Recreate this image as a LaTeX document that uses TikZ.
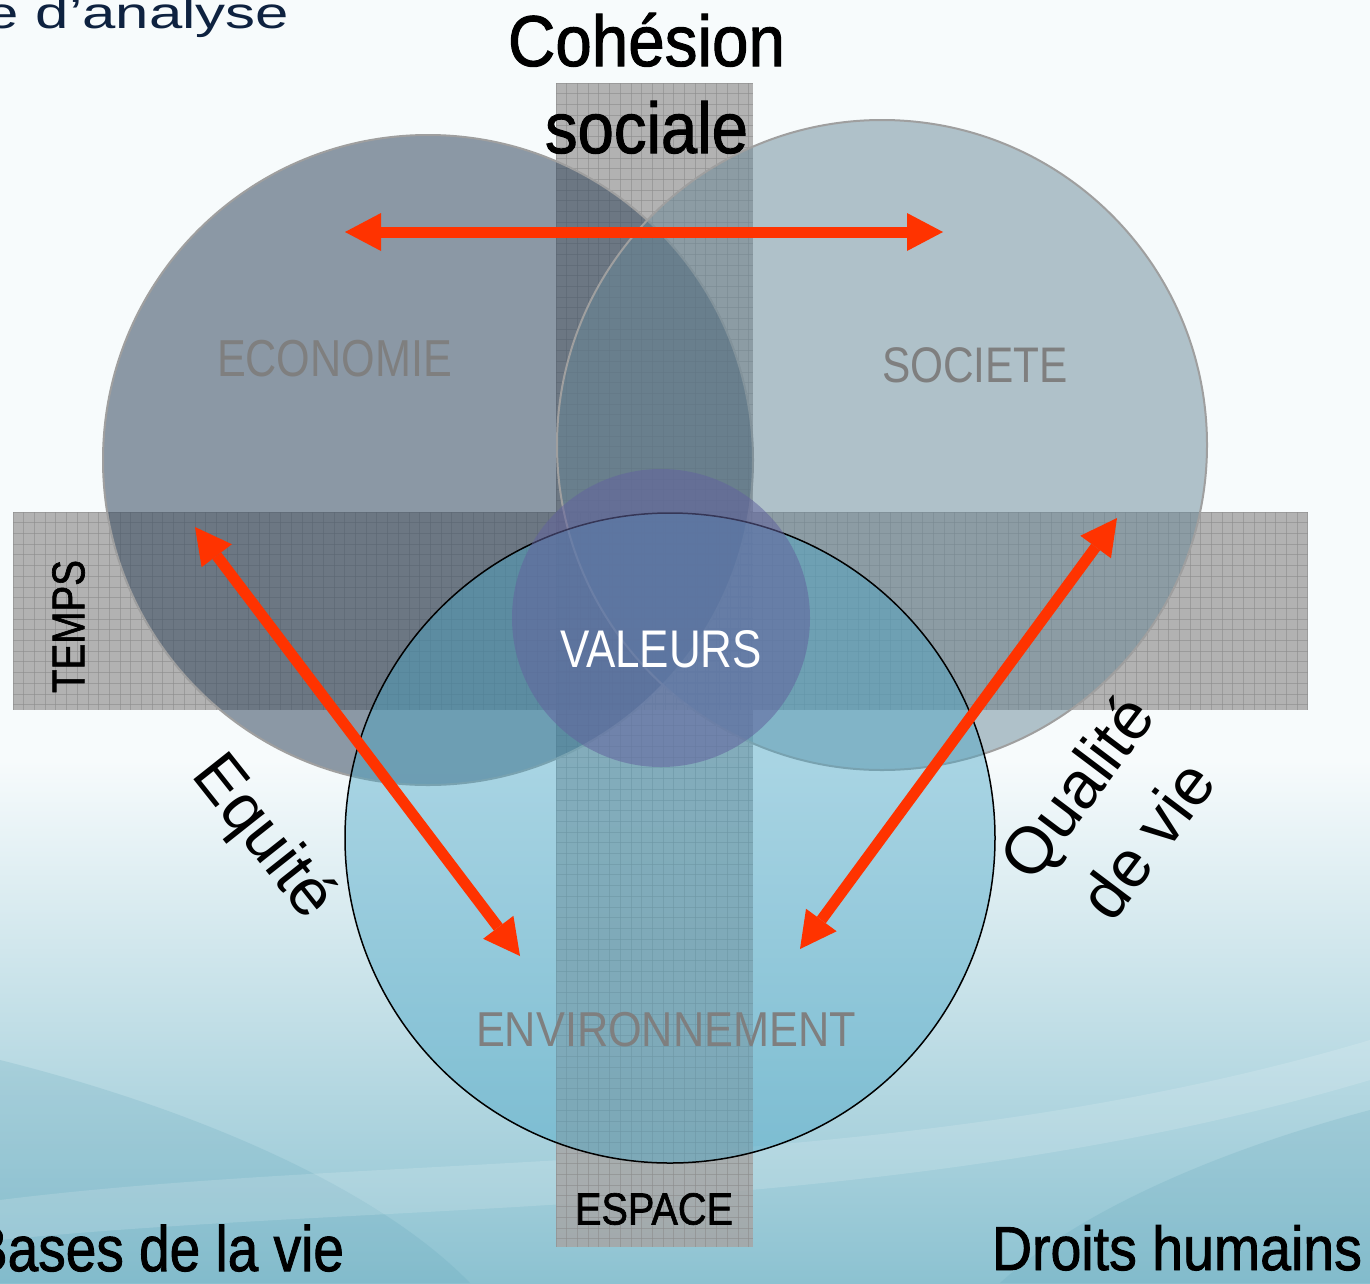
\documentclass[tikz,border=0pt]{standalone}
\usepackage{fontspec}
\usepackage{graphicx}
\setmainfont{Liberation Sans}
\newfontfamily\medf[FakeBold=1.5]{Liberation Sans}
\usetikzlibrary{arrows.meta}
\definecolor{bgtop}{HTML}{F7FBFC}
\definecolor{bgbot}{HTML}{8CC2D1}
\definecolor{bgdark}{HTML}{5FA3B8}
\definecolor{bandgray}{HTML}{A6A6A6}
\definecolor{gridgray}{HTML}{8C8C8C}
\definecolor{ecofill}{HTML}{34485E}
\definecolor{socfill}{HTML}{688898}
\definecolor{envfill}{HTML}{4AA6C6}
\definecolor{valfill}{HTML}{62639E}
\definecolor{arrowred}{HTML}{FF3300}
\definecolor{lblgray}{HTML}{7F7F7F}
\definecolor{navy}{HTML}{0E2240}
\newcommand\fitw[2]{\resizebox{#1pt}{\height}{#2}}
\tikzset{
  band/.style={fill=bandgray, fill opacity=0.85},
  gridline/.style={draw=gridgray, line width=0.8pt, opacity=0.6},
  bigcircle/.style={circle, inner sep=0pt, outer sep=0pt, minimum size=650pt},
  redarrow/.style={draw=arrowred, line width=11pt,
    {Triangle[length=36pt,width=38pt,line width'=0pt]}-{Triangle[length=36pt,width=38pt,line width'=0pt]}},
  lbl/.style={inner sep=0pt, outer sep=0pt}
}
\begin{document}
\begin{tikzpicture}[x=1pt,y=-1pt]
\clip (0,0) rectangle (1370,1283);
% background
\fill[bgtop] (0,0) rectangle (1370,1283);
\shade[top color=bgtop, bottom color=bgbot] (0,760) rectangle (1370,1283);
\fill[bgdark, opacity=0.2] (0,1060) .. controls (200,1110) and (380,1190) .. (470,1283) -- (0,1283) -- cycle;
\fill[bgdark, opacity=0.2] (1370,1110) .. controls (1220,1150) and (1080,1210) .. (1000,1283) -- (1370,1283) -- cycle;
\fill[white, opacity=0.15] (0,1200) .. controls (400,1150) and (900,1180) .. (1370,1040) -- (1370,1080) .. controls (900,1220) and (400,1200) .. (0,1240) -- cycle;
% bands
\fill[band] (556,83) rectangle (753,1247);
\fill[band] (13,512) rectangle (1308,710);
\begin{scope}
\clip (556,83) rectangle (753,1247);
\foreach \i in {0,...,19} \draw[gridline] (556+\i*10.7,83) -- (556+\i*10.7,1247);
\foreach \i in {0,...,109} \draw[gridline] (556,83+\i*10.7) -- (753,83+\i*10.7);
\end{scope}
\begin{scope}
\clip (13,512) rectangle (1308,710);
\foreach \i in {0,...,121} \draw[gridline] (13+\i*10.7,512) -- (13+\i*10.7,710);
\foreach \i in {0,...,19} \draw[gridline] (13,512+\i*10.7) -- (1308,512+\i*10.7);
\end{scope}
% circles
\node[bigcircle, fill=ecofill, fill opacity=0.55, draw=gray!75, line width=2pt] (eco) at (428,460) {};
\node[bigcircle, fill=socfill, fill opacity=0.5, draw=gray!75, line width=2pt] (soc) at (882,445) {};
\node[bigcircle, fill=envfill, fill opacity=0.45, draw=black, line width=1.5pt] (env) at (670,838) {};
\node[circle, inner sep=0pt, minimum size=298pt, fill=valfill, fill opacity=0.55] (val) at (661,618) {};
% arrows
\coordinate (hl) at (345,232); \coordinate (hr) at (943,232);
\coordinate (ll) at (195,527); \coordinate (lr) at (520,956);
\coordinate (rl) at (1117,518); \coordinate (rr) at (800,949);
\draw[redarrow] (hl) -- (hr);
\draw[redarrow] (ll) -- (lr);
\draw[redarrow] (rl) -- (rr);
% labels
\node[lbl, anchor=base east, text=navy] (tTitle) at (289,28) {\fitw{303}{\fontsize{44}{52}\selectfont e d’analyse}};
\node[lbl, anchor=base] (tCoh) at (646.5,66) {\fitw{277}{\medf\fontsize{72}{80}\selectfont Cohésion}};
\node[lbl, anchor=base] (tSoc) at (646.5,153) {\fitw{203}{\medf\fontsize{72}{80}\selectfont sociale}};
\node[lbl, text=lblgray] (tEco) at (334.5,358.5) {\fitw{235}{\fontsize{52}{60}\selectfont ECONOMIE}};
\node[lbl, text=lblgray] (tSoci) at (975,365.5) {\fitw{186}{\fontsize{50}{60}\selectfont SOCIETE}};
\node[lbl, text=lblgray] (tEnv) at (666,1029.5) {\fitw{380}{\fontsize{49}{60}\selectfont ENVIRONNEMENT}};
\node[lbl, text=white] (tVal) at (661,649) {\fitw{202}{\fontsize{53}{60}\selectfont VALEURS}};
\node[lbl, rotate=90] (tTemps) at (68.5,626.5) {\fitw{133}{\medf\fontsize{46}{56}\selectfont TEMPS}};
\node[lbl] (tEsp) at (654,1209) {\fitw{158}{\medf\fontsize{45}{56}\selectfont ESPACE}};
\node[lbl, rotate=-51.6, font=\fontsize{66}{80}\selectfont] (tEq) at (262,838) {Equité};
\node[lbl, rotate=53, align=center, font=\fontsize{66}{88}\selectfont] (tQual) at (1111,813) {Qualité\\de vie};
\node[lbl, anchor=base east] (tBases) at (344,1271) {\fitw{373}{\medf\fontsize{64}{70}\selectfont Bases de la vie}};
\node[lbl, anchor=base west] (tDroits) at (992,1270) {\fitw{370}{\medf\fontsize{62}{70}\selectfont Droits humains}};
\end{tikzpicture}
\end{document}
